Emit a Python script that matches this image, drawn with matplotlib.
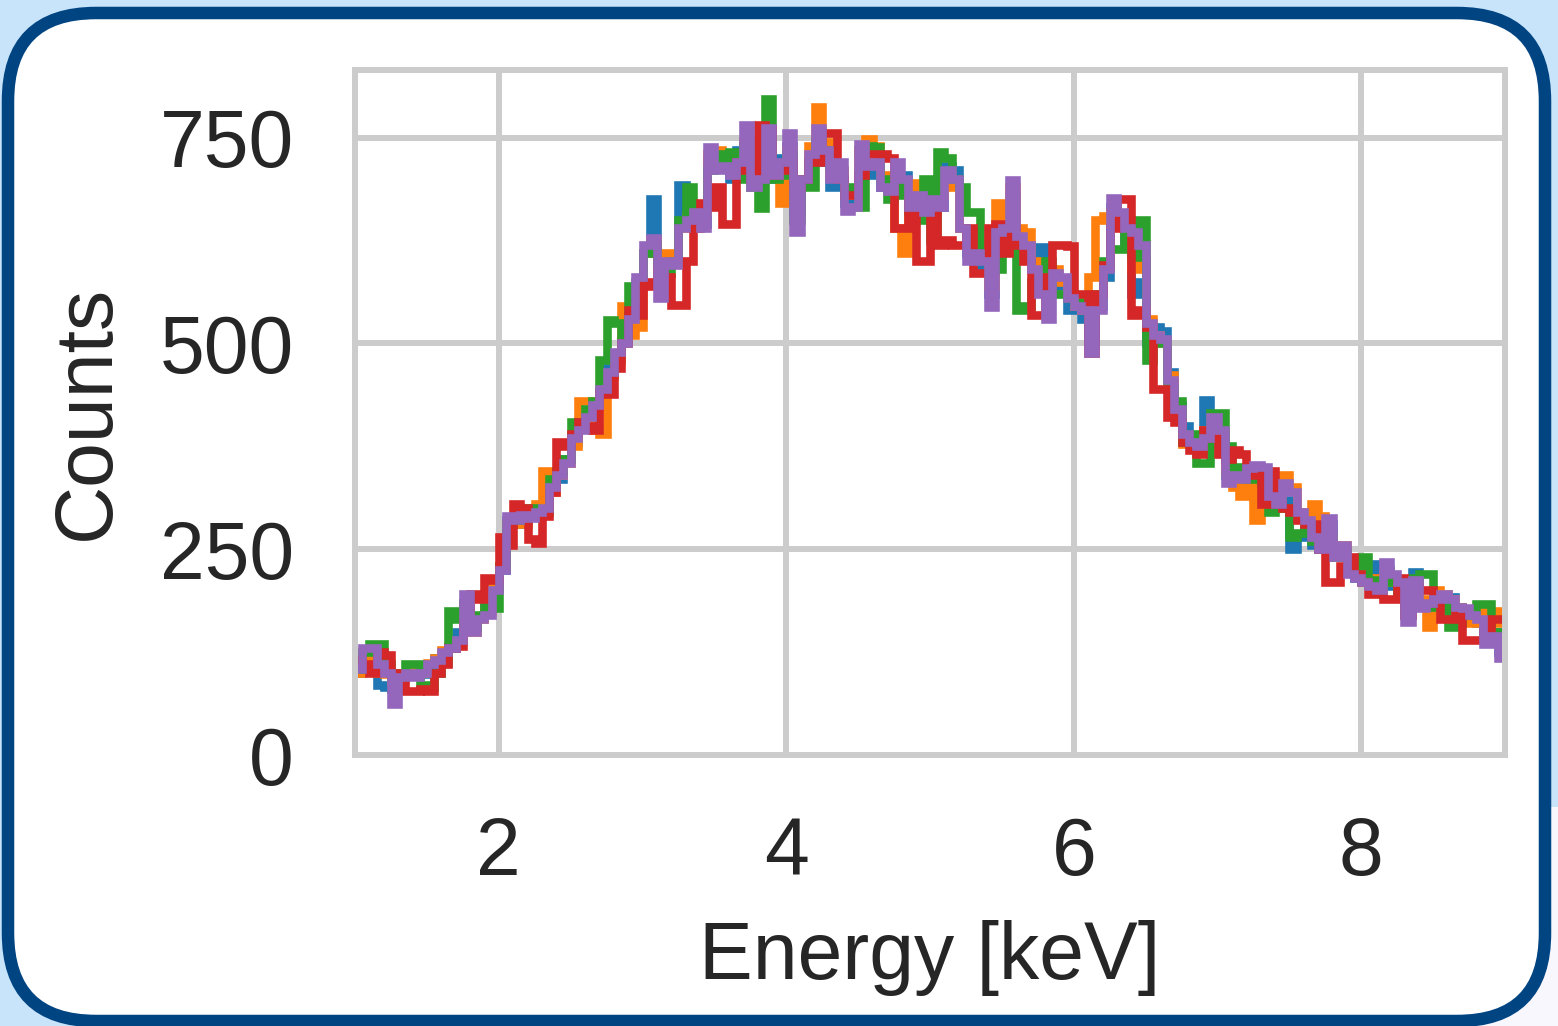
import numpy as np
import matplotlib
matplotlib.use("Agg")
import matplotlib.pyplot as plt
from matplotlib.patches import FancyBboxPatch, Rectangle
from typing import List

# spectrum binning: 160 bins of 0.05 keV between 1 and 9 keV
bin_lo: float = 1.0
bin_hi: float = 9.0
n_bins: int = 160

x_ticks: List[int] = [2, 4, 6, 8]
y_ticks: List[int] = [0, 250, 500, 750]

# counts per bin, one list per spectrum
counts_blue = [
	100, 118, 125, 85, 82, 80, 95, 100, 105, 98,
	108, 118, 122, 130, 150, 185, 160, 168, 180, 205,
	225, 285, 280, 290, 295, 290, 305, 330, 335, 360,
	380, 400, 415, 420, 440, 470, 485, 505, 520, 570,
	610, 675, 600, 605, 600, 692, 650, 660, 645, 725,
	715, 712, 700, 735, 745, 700, 705, 735, 700, 725,
	740, 660, 695, 720, 745, 720, 690, 710, 670, 675,
	735, 705, 710, 690, 690, 700, 705, 690, 670, 675,
	680, 665, 715, 710, 640, 610, 605, 590, 560, 625,
	640, 680, 630, 620, 600, 617, 580, 570, 575, 540,
	540, 530, 500, 545, 580, 665, 650, 625, 560, 575,
	500, 520, 515, 465, 425, 400, 385, 380, 431, 395,
	390, 340, 330, 345, 340, 350, 335, 310, 300, 310,
	250, 265, 275, 255, 265, 280, 245, 250, 225, 215,
	215, 232, 210, 225, 205, 200, 175, 222, 185, 185,
	195, 188, 192, 180, 175, 170, 160, 140, 150, 125,
]
counts_orange = [
	100, 115, 120, 100, 98, 90, 92, 100, 105, 100,
	112, 118, 128, 132, 138, 180, 150, 165, 175, 205,
	230, 280, 285, 280, 295, 305, 345, 320, 340, 355,
	375, 430, 430, 395, 390, 460, 480, 545, 510, 520,
	610, 625, 600, 610, 600, 640, 655, 665, 660, 730,
	735, 725, 710, 730, 745, 700, 725, 740, 715, 670,
	735, 690, 700, 740, 787, 745, 705, 710, 680, 680,
	735, 748, 740, 705, 700, 640, 610, 695, 690, 695,
	660, 680, 700, 690, 640, 620, 620, 610, 570, 670,
	650, 690, 640, 635, 600, 570, 560, 590, 575, 560,
	545, 540, 580, 650, 655, 660, 650, 640, 590, 600,
	530, 510, 500, 462, 420, 378, 380, 385, 395, 400,
	390, 345, 325, 315, 330, 285, 330, 320, 300, 340,
	325, 295, 290, 305, 290, 265, 245, 255, 225, 220,
	215, 215, 205, 220, 210, 205, 170, 200, 190, 155,
	200, 195, 190, 180, 175, 160, 165, 175, 175, 160,
]
counts_green = [
	105, 125, 135, 135, 110, 95, 100, 110, 110, 85,
	82, 100, 112, 175, 165, 185, 155, 170, 180, 178,
	230, 280, 290, 285, 300, 298, 295, 335, 345, 360,
	405, 400, 420, 430, 480, 528, 525, 505, 570, 575,
	610, 620, 590, 585, 600, 650, 690, 665, 665, 710,
	730, 720, 732, 700, 740, 690, 664, 797, 700, 705,
	730, 650, 700, 690, 745, 735, 715, 700, 685, 690,
	665, 740, 738, 700, 675, 700, 680, 660, 650, 700,
	625, 732, 725, 700, 690, 660, 660, 610, 590, 590,
	620, 630, 540, 545, 575, 585, 600, 560, 560, 555,
	550, 545, 530, 560, 600, 615, 615, 650, 605, 650,
	480, 500, 500, 445, 430, 380, 390, 355, 355, 415,
	415, 375, 350, 340, 335, 340, 330, 295, 310, 300,
	265, 270, 280, 260, 250, 265, 240, 245, 225, 220,
	240, 212, 205, 210, 215, 195, 185, 215, 220, 220,
	180, 185, 155, 160, 175, 170, 183, 183, 150, 145,
]
counts_red = [
	115, 110, 100, 125, 122, 100, 95, 78, 78, 80,
	78, 100, 110, 130, 132, 160, 195, 190, 215, 212,
	265, 255, 305, 300, 262, 258, 290, 320, 380, 375,
	390, 405, 400, 395, 440, 438, 470, 500, 540, 535,
	575, 570, 590, 580, 546, 546, 600, 640, 670, 665,
	690, 645, 645, 720, 710, 700, 765, 760, 705, 710,
	720, 690, 700, 720, 720, 755, 755, 700, 680, 680,
	705, 730, 730, 730, 725, 640, 640, 675, 600, 600,
	660, 620, 625, 620, 620, 640, 585, 585, 640, 645,
	610, 640, 620, 600, 535, 535, 580, 620, 620, 618,
	560, 560, 488, 560, 595, 640, 675, 675, 535, 540,
	520, 445, 445, 410, 405, 380, 370, 365, 395, 385,
	365, 360, 370, 365, 345, 340, 305, 345, 305, 300,
	295, 285, 280, 280, 250, 210, 210, 230, 240, 220,
	210, 195, 195, 190, 190, 215, 170, 205, 200, 200,
	185, 165, 165, 175, 140, 140, 140, 150, 165, 165,
]
counts_purple = [
	105, 130, 130, 110, 100, 62, 95, 100, 95, 100,
	110, 115, 125, 130, 140, 195, 150, 165, 170, 200,
	225, 290, 285, 292, 288, 295, 300, 325, 340, 355,
	385, 395, 410, 425, 445, 465, 490, 500, 530, 580,
	620, 628, 555, 600, 595, 640, 650, 660, 640, 738,
	710, 715, 705, 720, 765, 690, 700, 762, 705, 720,
	756, 635, 700, 730, 762, 735, 700, 720, 661, 665,
	742, 715, 720, 690, 685, 720, 700, 665, 680, 660,
	675, 665, 710, 700, 640, 600, 610, 600, 544, 635,
	640, 698, 630, 620, 590, 560, 530, 585, 580, 555,
	545, 540, 488, 540, 590, 677, 660, 640, 635, 620,
	525, 510, 505, 455, 420, 390, 380, 375, 385, 410,
	395, 330, 340, 335, 348, 352, 350, 315, 305, 330,
	320, 295, 285, 265, 250, 288, 240, 255, 220, 215,
	210, 205, 200, 235, 220, 210, 162, 212, 178, 185,
	190, 195, 190, 180, 178, 170, 165, 135, 145, 118,
]

spectra = [counts_blue, counts_orange, counts_green, counts_red, counts_purple]
colors = ['#1f77b4', '#ff7f0e', '#2ca02c', '#d62728', '#9467bd']

W, H, DPI = 1558, 1026, 100
text_color = '#262626'
grid_color = '#cccccc'
plt.rcParams['font.family'] = ['Liberation Sans', 'DejaVu Sans']

fig = plt.figure(figsize=(W / DPI, H / DPI), dpi=DPI)
fig.patch.set_facecolor('#c8e4fb')

# rounded card behind the plot
bg = fig.add_axes([0, 0, 1, 1], zorder=-1)
bg.set_xlim(0, W)
bg.set_ylim(H, 0)
bg.axis('off')
bg.add_patch(Rectangle((1400, 807), 158, 219, fc='#f8f7fe', ec='none'))
bg.add_patch(FancyBboxPatch((8, 13), 1537, 1008,
	boxstyle='round,pad=0,rounding_size=88',
	fc='white', ec='#004482', lw=9))

ax = fig.add_axes([355 / W, (H - 755) / H, 1150 / W, 685 / H])
ax.set_facecolor('white')
ax.set_axisbelow(True)

edges = np.linspace(bin_lo, bin_hi, n_bins + 1)
for values, color in zip(spectra, colors):
	ax.stairs(values, edges, baseline=None, color=color, lw=6.2)

ax.set_xlim(bin_lo, bin_hi)
ax.set_ylim(0, 832)
ax.set_xticks(x_ticks)
ax.set_yticks(y_ticks)

# whitegrid look
ax.grid(True, color=grid_color, lw=4.3)
for spine in ax.spines.values():
	spine.set_color(grid_color)
	spine.set_linewidth(4.3)
ax.tick_params(length=0, labelsize=58, colors=text_color)
ax.tick_params(axis='y', pad=44)
ax.tick_params(axis='x', pad=44)

ax.set_xlabel('Energy [keV]', fontsize=58, color=text_color, labelpad=20)
ax.set_ylabel('Counts', fontsize=58, color=text_color, labelpad=24)

fig.savefig('out.png', dpi=DPI)
